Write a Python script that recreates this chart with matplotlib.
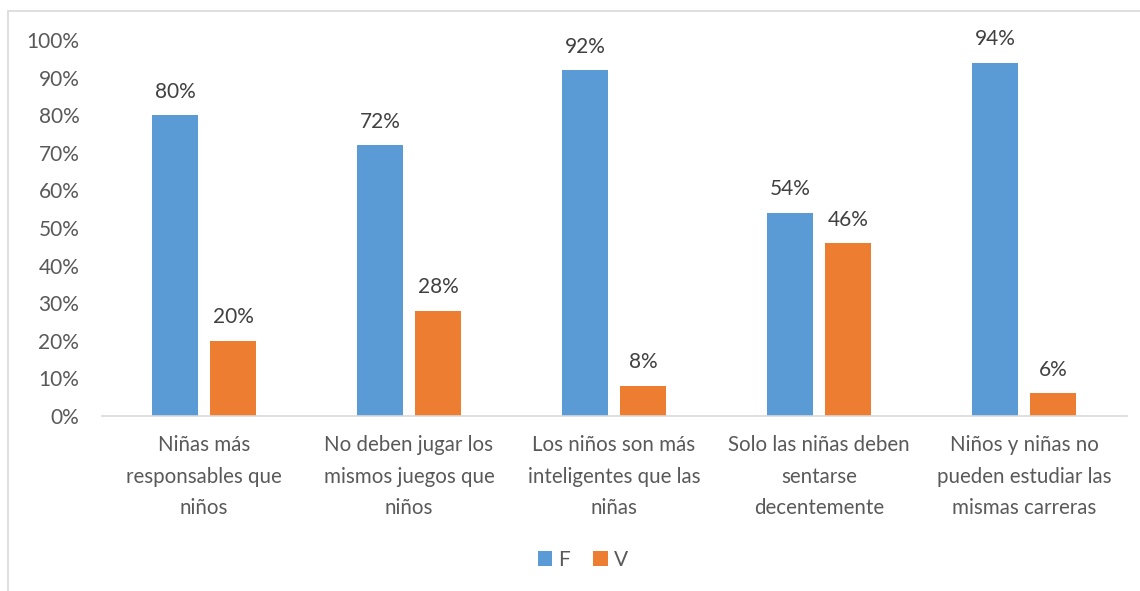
import matplotlib
matplotlib.use("Agg")
import matplotlib.pyplot as plt
import numpy as np
from matplotlib.patches import Rectangle

categories = [
    "Niñas más\nresponsables que\nniños",
    "No deben jugar los\nmismos juegos que\nniños",
    "Los niños son más\ninteligentes que las\nniñas",
    "Solo las niñas deben\nsentarse\ndecentemente",
    "Niños y niñas no\npueden estudiar las\nmismas carreras",
]
f_values = [80, 72, 92, 54, 94]
v_values = [20, 28, 8, 46, 6]

BLUE = "#5B9BD5"
ORANGE = "#ED7D31"
TEXT = "#595959"

plt.rcParams["font.family"] = ["Lato", "DejaVu Sans"]

W, H = 1140, 591
fig = plt.figure(figsize=(W / 100, H / 100), dpi=100)

# chart frame (runs past the right/bottom edge like the source)
fig.patches.append(Rectangle((8 / W, -0.1), 1.2, 1 - 11 / H + 0.1,
                             transform=fig.transFigure, fill=False,
                             edgecolor="#d9d9d9", linewidth=1.2))

left, right = 101.5 / W, 1126.5 / W
bottom, top = 1 - 416 / H, 1 - 40 / H
ax = fig.add_axes([left, bottom, right - left, top - bottom])

x = np.arange(len(categories))
bw = 0.224
off = 0.1415
bars_f = ax.bar(x - off, f_values, bw, color=BLUE, label="F")
bars_v = ax.bar(x + off, v_values, bw, color=ORANGE, label="V")

for bars, vals in ((bars_f, f_values), (bars_v, v_values)):
    for b, v in zip(bars, vals):
        ax.text(b.get_x() + b.get_width() / 2, v + 3.6, f"{v}%",
                ha="center", va="bottom", fontsize=15, color="#404040")

ax.set_xlim(-0.5, len(categories) - 0.5)
ax.set_ylim(0, 100)
ax.set_yticks(range(0, 101, 10))
ax.set_yticklabels([f"{t}%" for t in range(0, 101, 10)])
ax.set_xticks(x)
ax.set_xticklabels(categories, linespacing=1.72)
ax.tick_params(axis="y", length=0, pad=16, labelsize=15, labelcolor=TEXT)
ax.tick_params(axis="x", length=0, pad=14, labelsize=14.8, labelcolor=TEXT)

for s in ("top", "right", "left"):
    ax.spines[s].set_visible(False)
ax.spines["bottom"].set_color("#d9d9d9")
ax.spines["bottom"].set_linewidth(1.2)

fig.legend(handles=[bars_f, bars_v], labels=["F", "V"], loc="center",
           bbox_to_anchor=(583 / W, 1 - 560 / H), ncol=2, frameon=False,
           fontsize=15, labelcolor=TEXT, handlelength=0.7, handleheight=0.7,
           handletextpad=0.3, columnspacing=1.1)

fig.savefig("out.png", dpi=100)
